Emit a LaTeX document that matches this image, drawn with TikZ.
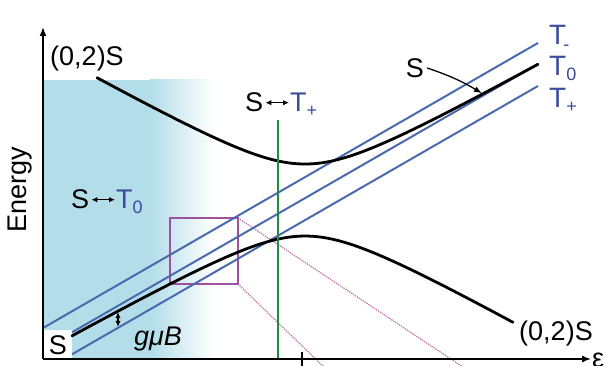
\documentclass[tikz,border=0pt]{standalone}
\usepackage{fontspec}
\setmainfont{Liberation Sans}
\usetikzlibrary{arrows.meta}
\definecolor{shadeblue}{RGB}{178,221,233}
\definecolor{lineblue}{RGB}{75,105,175}
\definecolor{labblue}{RGB}{60,75,155}
\definecolor{grn}{RGB}{30,140,70}
\definecolor{mag}{RGB}{160,80,160}
\definecolor{pinkdot}{RGB}{190,120,170}
\newcommand{\subsc}[2]{\raisebox{#1}{\fontsize{18}{20}\selectfont #2}}
\begin{document}
\begin{tikzpicture}[x=1pt,y=-1pt,
  declare function={
    Lone(\t)=331-0.562*(\t-72);
    Ltwo(\t)=82+0.562*(\t-95);
    hd(\t)=(Lone(\t)-Ltwo(\t))/20;
    mid(\t)=(Lone(\t)+Ltwo(\t))/2;
    up(\t)=mid(\t)-10*sqrt(hd(\t)^2+12.96);
    lo(\t)=mid(\t)+10*sqrt(hd(\t)^2+12.96);
    tm(\t)=328-0.5758*(\t-43);
  },
  txt/.style={inner sep=0pt, font=\fontsize{27}{30}\selectfont},
  bluetxt/.style={inner sep=0pt, font=\fontsize{28}{30}\selectfont, text=labblue},
  tline/.style={lineblue, line width=2pt},
  curve/.style={black, line width=2.8pt},
  ax/.style={line width=1.5pt, -{Latex[length=9pt,width=7pt]}},
  dbl/.style={line width=1.5pt, {Latex[length=6pt,width=5.5pt]}-{Latex[length=6pt,width=5.5pt]}},
]
\useasboundingbox (0,0) rectangle (606,366);
\clip (0,0) rectangle (606,366);

% shaded (0,2) region
\fill[shadeblue] (44,80) rectangle (151,358);
\shade[left color=shadeblue, right color=white] (150,80) rectangle (214,358);
\fill[white] (44,330) rectangle (72,358);

% zoom box and dotted guide lines
\coordinate (bxtl) at (170,218);
\coordinate (bxbr) at (238,284);
\coordinate (bxtr) at (238,218);
\coordinate (dotA) at (466,369);
\coordinate (dotB) at (326,369);
\draw[pinkdot, line width=1.3pt, densely dotted] (bxtr) -- (dotA);
\draw[pinkdot, line width=1.3pt, densely dotted] (bxbr) -- (dotB);
\draw[mag, line width=1.3pt] (bxtl) rectangle (bxbr);

% triplet lines
\coordinate (tms) at (43,{tm(43)});
\coordinate (tme) at (538,{tm(538)});
\coordinate (tzs) at (72,{tm(72)+21});
\coordinate (tze) at (538,{tm(538)+21});
\coordinate (tps) at (72,{tm(72)+43});
\coordinate (tpe) at (538,{tm(538)+43});
\draw[tline] (tms) -- (tme);
\draw[tline] (tzs) -- (tze);
\draw[tline] (tps) -- (tpe);

% singlet branches
\draw[curve, line cap=round] plot[domain=97:538, samples=120, smooth] (\x,{up(\x)});
\draw[curve, line cap=round] plot[domain=72:513, samples=120, smooth] (\x,{lo(\x)});

% green marker line
\coordinate (gtop) at (278,120);
\coordinate (gbot) at (278,358);
\draw[grn, line width=1.8pt] (gtop) -- (gbot);

% axes
\coordinate (O) at (43,359);
\coordinate (ytop) at (43,27);
\coordinate (xend) at (591,359);
\draw[ax] (O) -- (ytop);
\draw[ax] (O) -- (xend);
\coordinate (tickt) at (302,352);
\coordinate (tickb) at (302,367);
\draw[line width=1.5pt] (tickt) -- (tickb);

% labels
\node[txt] (l02a) at (87,59) {(0,2)S};
\node[txt] (l02b) at (556,334) {(0,2)S};
\node[txt, rotate=90] (en) at (20,190) {Energy};
\node[txt] (sbl) at (58,345) {S};
\node[txt, anchor=west] (eps) at (592,360) {ε};
\node[txt] (sr) at (415,68) {S};
\coordinate (sonc) at (482,{up(482)-1});
\draw[line width=1.3pt, -{Latex[length=8pt,width=6pt]}] ([xshift=3pt]sr.east) to[bend left=6] (sonc);

\node[txt, font=\fontsize{27}{30}\selectfont\itshape] (gmb) at (158,339) {gμB};
\coordinate (ga) at (118,{lo(118)+1});
\coordinate (gb) at (118,{tm(118)+42});
\draw[dbl] (ga) -- (gb);

% triplet labels
\node[bluetxt, anchor=base west] (lTm) at (549,45) {T\kern-3pt\subsc{-6pt}{-}};
\node[bluetxt, anchor=base west] (lT0) at (549,76) {T\subsc{-5pt}{0}};
\node[bluetxt, anchor=base west] (lTp) at (549,108) {T\subsc{-5pt}{+}};

% S <-> T0
\node[txt, anchor=base west] (s1) at (71,209) {S};
\node[txt, text=labblue, anchor=base west] (t1) at (116,209) {T\subsc{-5pt}{0}};
\draw[dbl] ([xshift=2pt]s1.east) -- ([xshift=-1pt]s1.east -| t1.west);

% S <-> T+
\node[txt, anchor=base west] (s2) at (245,112) {S};
\node[txt, text=labblue, anchor=base west] (t2) at (290,112) {T\subsc{-5pt}{+}};
\draw[dbl] ([xshift=2pt]s2.east) -- ([xshift=-1pt]s2.east -| t2.west);
\end{tikzpicture}
\end{document}
